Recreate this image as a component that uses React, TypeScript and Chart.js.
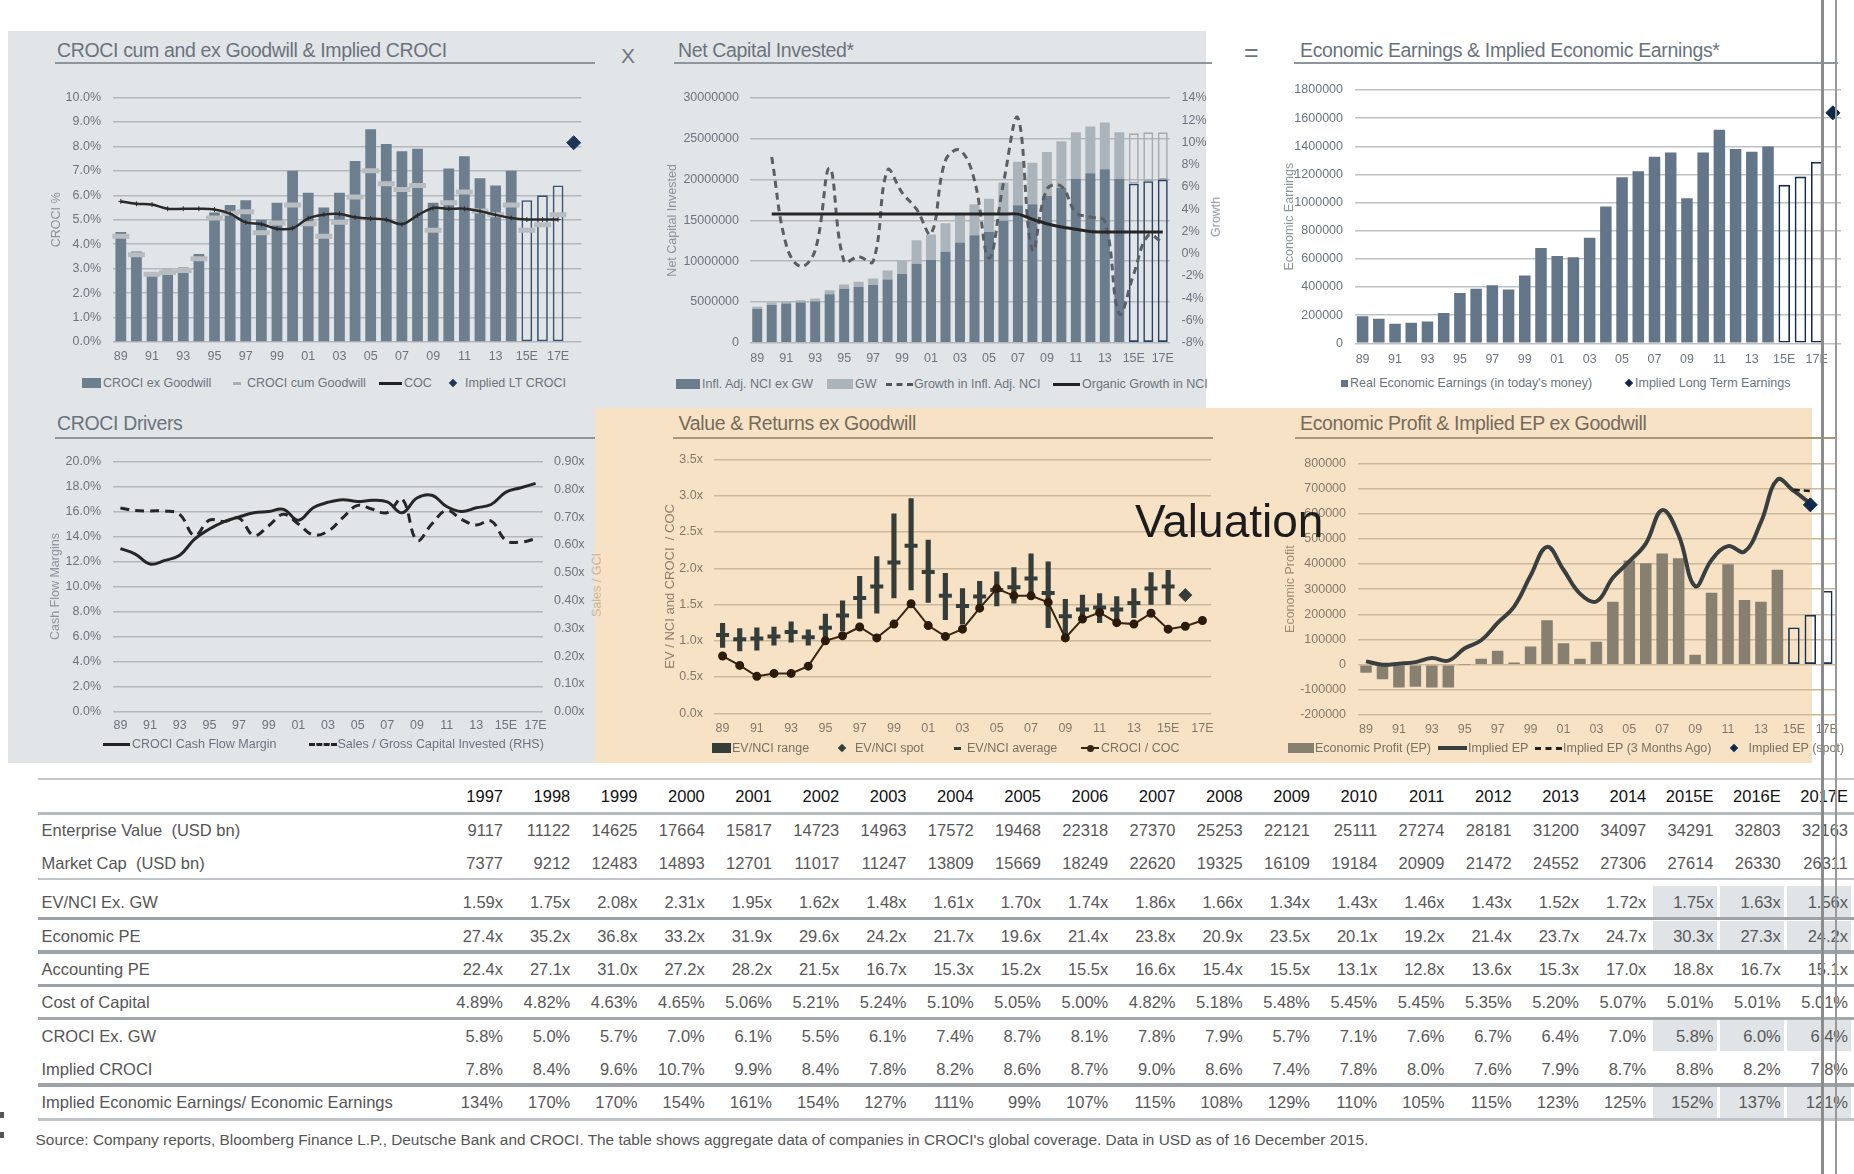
import React, { useEffect, useRef } from 'react';
import { Chart, registerables } from 'chart.js';

Chart.register(...registerables);

const FONT = '"Liberation Sans", Arial, Helvetica, sans-serif';

// ---------------- categories ----------------
const YEARS = ['89','90','91','92','93','94','95','96','97','98','99','00','01','02','03','04','05','06','07','08','09','10','11','12','13','14','15E','16E','17E'];
const YEARS_LT = ['89','90','91','92','93','94','95','96','97','98','99','00','01','02','03','04','05','06','07','08','09','10','11','12','13','14','15E','16E','17E','LT'];

// ---------------- chart 1: CROCI cum and ex Goodwill ----------------
const CROCI_EX_GW = [4.5, 3.7, 2.85, 2.95, 3.05, 3.6, 5.3, 5.6, 5.8, 5.0, 5.7, 7.0, 6.1, 5.5, 6.1, 7.4, 8.7, 8.1, 7.8, 7.9, 5.7, 7.1, 7.6, 6.7, 6.4, 7.0, 5.8, 6.0, 6.4];
const CROCI_CUM_GW = [4.33, 3.57, 2.77, 2.84, 2.92, 3.4, 5.07, 5.27, 5.33, 4.47, 4.87, 5.6, 4.84, 4.33, 4.9, 5.93, 7.0, 6.47, 6.24, 6.4, 4.57, 5.7, 6.13, 5.36, 5.2, 5.6, 4.57, 4.8, 5.2];
const COC_PCT = [5.75, 5.65, 5.62, 5.45, 5.45, 5.45, 5.42, 5.25, 4.89, 4.82, 4.63, 4.65, 5.06, 5.21, 5.24, 5.10, 5.05, 5.00, 4.82, 5.18, 5.48, 5.45, 5.45, 5.35, 5.20, 5.07, 5.01, 5.01, 5.01];
const IMPLIED_LT_CROCI = [{ x: 'LT', y: 8.15 }];

// ---------------- chart 2: Net Capital Invested ----------------
const NCI_EX_GW = [4130000, 4610000, 4810000, 4930000, 5050000, 5940000, 6620000, 6820000, 7060000, 7740000, 8420000, 9670000, 10150000, 11150000, 12270000, 13160000, 13560000, 14960000, 16850000, 16970000, 17970000, 18970000, 20100000, 20770000, 21260000, 20100000, 19500000, 19800000, 20000000];
const GW = [280000, 320000, 200000, 280000, 360000, 480000, 520000, 640000, 800000, 1120000, 1610000, 2880000, 3130000, 3490000, 3490000, 3810000, 4090000, 4690000, 5330000, 5090000, 5410000, 5740000, 5690000, 5740000, 5730000, 5690000, 6170000, 5990000, 5790000];
const GROWTH_NCI = [null, 8.7, 0.8, -1.15, 0.3, 7.7, -0.7, -0.26, -0.7, 7.5, 5.5, 4.0, 1.8, 8.4, 9.3, 6.6, -0.4, 6.35, 12.2, 0.3, 5.8, 6.06, 3.7, 3.3, 2.9, -5.4, -1.8, 1.65, 1.0];
const ORGANIC_GROWTH = [null, 3.56, 3.56, 3.56, 3.56, 3.56, 3.56, 3.56, 3.56, 3.56, 3.56, 3.56, 3.56, 3.56, 3.56, 3.56, 3.56, 3.56, 3.56, 3.1, 2.7, 2.4, 2.2, 2.0, 1.95, 1.95, 1.95, 1.95, 1.95];

// ---------------- chart 3: Economic Earnings ----------------
const ECON_EARNINGS = [192800, 174000, 139000, 146000, 155600, 216000, 357700, 388000, 413000, 383000, 481000, 678000, 620000, 611000, 750000, 973000, 1180000, 1222000, 1326000, 1356000, 1031000, 1356000, 1517000, 1380000, 1361000, 1398000, 1126000, 1185000, 1289000];
const IMPLIED_LT_EARNINGS = [{ x: 'LT', y: 1638000 }];

// ---------------- chart 4: CROCI Drivers ----------------
const CF_MARGIN = [13.04, 12.6, 11.8, 12.1, 12.5, 13.8, 14.6, 15.2, 15.57, 15.9, 16.0, 16.17, 15.3, 16.3, 16.74, 16.95, 16.8, 16.9, 16.77, 15.9, 17.08, 17.3, 16.4, 16.0, 16.3, 16.56, 17.55, 17.9, 18.25];
const SALES_GCI = [0.733, 0.724, 0.722, 0.722, 0.71, 0.634, 0.689, 0.684, 0.696, 0.634, 0.669, 0.71, 0.675, 0.636, 0.649, 0.698, 0.742, 0.728, 0.716, 0.765, 0.616, 0.675, 0.724, 0.692, 0.672, 0.686, 0.616, 0.61, 0.622];

// ---------------- chart 5: Value & Returns ex Goodwill ----------------
const EVNCI_LOW = [0.91, 0.86, 0.87, 0.94, 0.98, 0.94, 1.00, 1.14, 1.31, 1.38, 1.59, 1.70, 1.53, 1.29, 1.23, 1.42, 1.48, 1.52, 1.58, 1.18, 1.06, 1.25, 1.25, 1.23, 1.32, 1.50, 1.50];
const EVNCI_HIGH = [1.24, 1.17, 1.18, 1.19, 1.26, 1.15, 1.37, 1.55, 1.89, 2.16, 2.75, 2.96, 2.39, 1.93, 1.72, 1.82, 1.95, 2.01, 2.20, 2.09, 1.57, 1.63, 1.65, 1.61, 1.72, 1.94, 1.97];
const EVNCI_AVG = [1.08, 1.02, 1.03, 1.06, 1.12, 1.05, 1.18, 1.35, 1.59, 1.75, 2.08, 2.31, 1.95, 1.62, 1.48, 1.61, 1.70, 1.74, 1.86, 1.66, 1.34, 1.43, 1.46, 1.43, 1.52, 1.72, 1.75];
const EVNCI_SPOT = [{ x: '16E', y: 1.63 }];
const CROCI_OVER_COC = [0.79, 0.66, 0.51, 0.55, 0.55, 0.65, 1.00, 1.07, 1.19, 1.04, 1.23, 1.51, 1.21, 1.06, 1.16, 1.45, 1.72, 1.62, 1.62, 1.53, 1.04, 1.30, 1.39, 1.25, 1.23, 1.38, 1.16, 1.20, 1.28];

// ---------------- chart 6: Economic Profit ----------------
const ECON_PROFIT = [-32000, -58000, -91000, -88000, -91000, -91000, 1000, 23000, 55000, 9000, 72000, 176000, 85000, 23000, 91000, 250000, 414000, 403000, 442000, 423000, 39000, 286000, 399000, 257000, 250000, 377000, 148000, 198000, 293000];
const IMPLIED_EP = [13000, 0, 4000, 10000, 26000, 16000, 65000, 97000, 166000, 231000, 354000, 468000, 377000, 282000, 251000, 345000, 410000, 481000, 614000, 514000, 312000, 416000, 471000, 449000, 566000, 735000, 690000, 640000];
const IMPLIED_EP_3M = [{ x: '15E', y: 695000 }, { x: '16E', y: 690000 }];
const IMPLIED_EP_SPOT = [{ x: '16E', y: 635000 }];

// ---------------- table ----------------
const TABLE_YEARS = ['1997','1998','1999','2000','2001','2002','2003','2004','2005','2006','2007','2008','2009','2010','2011','2012','2013','2014','2015E','2016E','2017E'];
const EV_USD_BN = [9117, 11122, 14625, 17664, 15817, 14723, 14963, 17572, 19468, 22318, 27370, 25253, 22121, 25111, 27274, 28181, 31200, 34097, 34291, 32803, 32163];
const MCAP_USD_BN = [7377, 9212, 12483, 14893, 12701, 11017, 11247, 13809, 15669, 18249, 22620, 19325, 16109, 19184, 20909, 21472, 24552, 27306, 27614, 26330, 26311];
const EVNCI_EX_GW = [1.59, 1.75, 2.08, 2.31, 1.95, 1.62, 1.48, 1.61, 1.70, 1.74, 1.86, 1.66, 1.34, 1.43, 1.46, 1.43, 1.52, 1.72, 1.75, 1.63, 1.56];
const ECONOMIC_PE = [27.4, 35.2, 36.8, 33.2, 31.9, 29.6, 24.2, 21.7, 19.6, 21.4, 23.8, 20.9, 23.5, 20.1, 19.2, 21.4, 23.7, 24.7, 30.3, 27.3, 24.2];
const ACCOUNTING_PE = [22.4, 27.1, 31.0, 27.2, 28.2, 21.5, 16.7, 15.3, 15.2, 15.5, 16.6, 15.4, 15.5, 13.1, 12.8, 13.6, 15.3, 17.0, 18.8, 16.7, 15.1];
const COST_OF_CAPITAL = [4.89, 4.82, 4.63, 4.65, 5.06, 5.21, 5.24, 5.10, 5.05, 5.00, 4.82, 5.18, 5.48, 5.45, 5.45, 5.35, 5.20, 5.07, 5.01, 5.01, 5.01];
const CROCI_TABLE = [5.8, 5.0, 5.7, 7.0, 6.1, 5.5, 6.1, 7.4, 8.7, 8.1, 7.8, 7.9, 5.7, 7.1, 7.6, 6.7, 6.4, 7.0, 5.8, 6.0, 6.4];
const IMPLIED_CROCI = [7.8, 8.4, 9.6, 10.7, 9.9, 8.4, 7.8, 8.2, 8.6, 8.7, 9.0, 8.6, 7.4, 7.8, 8.0, 7.6, 7.9, 8.7, 8.8, 8.2, 7.8];
const IMPLIED_EE_RATIO = [134, 170, 170, 154, 161, 154, 127, 111, 99, 107, 115, 108, 129, 110, 105, 115, 123, 125, 152, 137, 121];

// ---------------- styles ----------------
const GRAY_BG = '#e2e5e8';
const PEACH = '#f7e2c5';
const TICK_GRAY = '#6c747d';
const TICK_PEACH = '#85786a';
const GRID_GRAY = '#b3b8bd';
const GRID_WHITE = '#bdc1c5';
const GRID_PEACH = '#cbb99b';
const NAVY = '#1d3657';
const SLATE = '#6d7e8f';
const EST_FROM = 26;

function frame(cl: number, ct: number, cr: number, cb: number, titleCX: number, rightEdge: number, titleSize = 12.5) {
  const half = titleSize * 0.6;
  const L = Math.floor(titleCX - half - 1);
  const T = Math.floor(ct - 14);
  const R = Math.ceil(rightEdge);
  const B = Math.ceil(cb + 30);
  return { L, T, R, B, W: R - L, H: B - T, cl, ct, cr, cb, leftW: cl - L, padTop: ct - T, rightW: R - cr, xH: B - cb, titlePad: titleCX - L - half };
}

function baseOptions(f: any, hasRight: boolean) {
  return {
    responsive: false,
    animation: false,
    devicePixelRatio: 1,
    events: [],
    layout: { padding: { left: 0, top: f.padTop, right: hasRight ? 0 : f.rightW, bottom: 0 } },
    plugins: { legend: { display: false }, tooltip: { enabled: false }, title: { display: false } },
  };
}

function xAxis(f: any, color: string, labelCY: number, stacked = false) {
  return {
    type: 'category',
    offset: true,
    stacked,
    grid: { display: false, drawTicks: false },
    border: { display: false },
    ticks: {
      autoSkip: false, maxRotation: 0, minRotation: 0, color,
      padding: labelCY - f.cb - 7.5,
      font: { family: FONT, size: 12.5 },
      callback: function (this: any, v: any, i: number) { return i % 2 === 0 ? this.getLabelForValue(v) : ''; },
    },
    afterFit: (s: any) => { s.height = f.xH; },
  };
}

function yAxis(f: any, o: any) {
  return {
    type: 'linear', position: 'left', min: o.min, max: o.max, stacked: !!o.stacked,
    grid: { color: o.grid, lineWidth: 1.5, drawTicks: false },
    border: { display: false },
    ticks: { stepSize: o.step, maxTicksLimit: 30, color: o.color, padding: f.cl - o.labelRight, font: { family: FONT, size: 12.5 }, callback: o.cb },
    title: { display: !!o.title, text: o.title, color: o.titleColor, font: { family: FONT, size: o.titleSize || 12.5 }, padding: { top: f.titlePad, bottom: 0 } },
    afterFit: (s: any) => { s.width = f.leftW; },
  };
}

function y1Axis(f: any, o: any) {
  return {
    type: 'linear', position: 'right', min: o.min, max: o.max,
    grid: { display: false, drawTicks: false },
    border: { display: false },
    ticks: { stepSize: o.step, maxTicksLimit: 30, color: o.color, padding: o.labelLeft - f.cr, font: { family: FONT, size: 12.5 }, callback: o.cb },
    afterFit: (s: any) => { s.width = f.rightW; },
  };
}

const estFill = (fill: string) => (c: any) => (c.dataIndex >= EST_FROM ? 'rgba(0,0,0,0)' : fill);
const estBorder = (color: string) => (c: any) => (c.dataIndex >= EST_FROM ? color : 'rgba(0,0,0,0)');
const estWidth = (c: any) => (c.dataIndex >= EST_FROM ? 1.6 : 0);

// ---------------- frames ----------------
const F1 = frame(113, 92, 589, 342, 57, 595);
const F2 = frame(750, 93.3, 1170, 342.7, 673, 1212);
const F3 = frame(1354.5, 85, 1841, 343.3, 1290, 1850);
const F4 = frame(113, 456, 543, 711.7, 55.5, 592);
const F5 = frame(714, 455, 1211, 713.3, 670.5, 1225, 13);
const F6 = frame(1357.8, 458.3, 1835, 715, 1290.5, 1850);

const pct1 = (v: number) => v.toFixed(1) + '%';
const plain = (v: number) => String(v);

function build1() {
  return {
    type: 'bar',
    data: {
      labels: YEARS_LT,
      datasets: [
        { type: 'line', label: 'Implied LT CROCI', data: IMPLIED_LT_CROCI, showLine: false, pointStyle: 'rectRot', pointRadius: 7, pointBackgroundColor: NAVY, pointBorderColor: NAVY, order: 0 },
        { type: 'line', label: 'COC', data: COC_PCT, borderColor: '#2a2a2a', borderWidth: 2.5, tension: 0.35, pointStyle: 'cross', pointRadius: 2.5, pointBorderColor: '#2a2a2a', pointBorderWidth: 1, order: 1 },
        { type: 'line', label: 'CROCI cum Goodwill', data: CROCI_CUM_GW, showLine: false, pointStyle: 'line', pointRadius: 8.5, pointBorderWidth: 5, pointBorderColor: '#b8bdc2', order: 2 },
        { type: 'bar', label: 'CROCI ex Goodwill', data: CROCI_EX_GW, backgroundColor: estFill(SLATE), borderColor: estBorder('#3b5270'), borderWidth: estWidth, borderSkipped: false, barPercentage: 0.69, categoryPercentage: 1, order: 3 },
      ],
    },
    options: {
      ...baseOptions(F1, false),
      scales: {
        x: xAxis(F1, TICK_GRAY, 357),
        y: yAxis(F1, { min: 0, max: 10, step: 1, cb: pct1, color: TICK_GRAY, grid: GRID_GRAY, labelRight: 101, title: 'CROCI %', titleColor: '#8b939b' }),
      },
    },
  };
}

function build2() {
  return {
    type: 'bar',
    data: {
      labels: YEARS,
      datasets: [
        { type: 'line', label: 'Organic Growth in NCI', data: ORGANIC_GROWTH, yAxisID: 'y1', borderColor: '#252525', borderWidth: 3, tension: 0.3, pointRadius: 0, order: 0 },
        { type: 'line', label: 'Growth in Infl. Adj. NCI', data: GROWTH_NCI, yAxisID: 'y1', borderColor: '#5a5f64', borderWidth: 3, borderDash: [7, 5], tension: 0.4, pointRadius: 0, order: 1 },
        { type: 'bar', label: 'Infl. Adj. NCI ex GW', data: NCI_EX_GW, stack: 'nci', backgroundColor: estFill('#6b7c8d'), borderColor: estBorder('#2c4262'), borderWidth: estWidth, borderSkipped: false, barPercentage: 0.69, categoryPercentage: 1, order: 2 },
        { type: 'bar', label: 'GW', data: GW, stack: 'nci', backgroundColor: estFill('#abb3bb'), borderColor: estBorder('#a3abb3'), borderWidth: estWidth, borderSkipped: false, barPercentage: 0.69, categoryPercentage: 1, order: 3 },
      ],
    },
    options: {
      ...baseOptions(F2, true),
      scales: {
        x: xAxis(F2, TICK_GRAY, 359, true),
        y: yAxis(F2, { min: 0, max: 30000000, step: 5000000, cb: plain, color: TICK_GRAY, grid: GRID_GRAY, labelRight: 739, title: 'Net Capital Invested', titleColor: '#8b939b', stacked: true }),
        y1: y1Axis(F2, { min: -8, max: 14, step: 2, cb: (v: number) => v + '%', color: TICK_GRAY, labelLeft: 1181.5 }),
      },
    },
  };
}

function build3() {
  return {
    type: 'bar',
    data: {
      labels: YEARS_LT,
      datasets: [
        { type: 'line', label: 'Implied Long Term Earnings', data: IMPLIED_LT_EARNINGS, showLine: false, pointStyle: 'rectRot', pointRadius: 7, pointBackgroundColor: '#0f2849', pointBorderColor: '#0f2849', order: 0 },
        { type: 'bar', label: "Real Economic Earnings (in today's money)", data: ECON_EARNINGS, backgroundColor: estFill('#637589'), borderColor: estBorder('#14294a'), borderWidth: estWidth, borderSkipped: false, barPercentage: 0.71, categoryPercentage: 1, order: 1 },
      ],
    },
    options: {
      ...baseOptions(F3, false),
      scales: {
        x: xAxis(F3, TICK_GRAY, 359.3),
        y: yAxis(F3, { min: 0, max: 1800000, step: 200000, cb: plain, color: TICK_GRAY, grid: GRID_WHITE, labelRight: 1343, title: 'Economic Earnings', titleColor: '#8b939b' }),
      },
    },
  };
}

function build4() {
  return {
    type: 'line',
    data: {
      labels: YEARS,
      datasets: [
        { label: 'CROCI Cash Flow Margin', data: CF_MARGIN, yAxisID: 'y', borderColor: '#262626', borderWidth: 3, tension: 0.4, pointRadius: 0 },
        { label: 'Sales / Gross Capital Invested (RHS)', data: SALES_GCI, yAxisID: 'y1', borderColor: '#262626', borderWidth: 3, borderDash: [9, 6], tension: 0.4, pointRadius: 0 },
      ],
    },
    options: {
      ...baseOptions(F4, true),
      scales: {
        x: { ...xAxis(F4, TICK_GRAY, 726), offset: true },
        y: yAxis(F4, { min: 0, max: 20, step: 2, cb: pct1, color: TICK_GRAY, grid: GRID_GRAY, labelRight: 101, title: 'Cash Flow Margins', titleColor: '#8b939b' }),
        y1: y1Axis(F4, { min: 0, max: 0.9, step: 0.1, cb: (v: number) => v.toFixed(2) + 'x', color: TICK_GRAY, labelLeft: 554 }),
      },
    },
  };
}

function build5() {
  const ranges = EVNCI_LOW.map((lo, i) => [lo, EVNCI_HIGH[i]]);
  return {
    type: 'bar',
    data: {
      labels: YEARS,
      datasets: [
        { type: 'line', label: 'CROCI / COC', data: CROCI_OVER_COC, borderColor: '#3a2512', borderWidth: 2, tension: 0, pointRadius: 3.5, pointBackgroundColor: '#2c1b0a', pointBorderColor: '#2c1b0a', order: 0 },
        { type: 'line', label: 'EV/NCI spot', data: EVNCI_SPOT, showLine: false, pointStyle: 'rectRot', pointRadius: 6.5, pointBackgroundColor: '#353d3b', pointBorderColor: '#353d3b', order: 1 },
        { type: 'line', label: 'EV/NCI average', data: EVNCI_AVG, showLine: false, pointStyle: 'line', pointRadius: 6.5, pointBorderWidth: 4, pointBorderColor: '#353d3b', order: 2 },
        { type: 'bar', label: 'EV/NCI range', data: ranges, backgroundColor: '#353d3b', barThickness: 4.5, borderWidth: 0, order: 3 },
      ],
    },
    options: {
      ...baseOptions(F5, false),
      scales: {
        x: xAxis(F5, TICK_PEACH, 729),
        y: yAxis(F5, { min: 0, max: 3.5, step: 0.5, cb: (v: number) => v.toFixed(1) + 'x', color: TICK_PEACH, grid: GRID_PEACH, labelRight: 703, title: 'EV / NCI and CROCI  / COC', titleColor: '#8e7d66', titleSize: 13 }),
      },
    },
  };
}

function build6() {
  return {
    type: 'bar',
    data: {
      labels: YEARS,
      datasets: [
        { type: 'line', label: 'Implied EP (spot)', data: IMPLIED_EP_SPOT, showLine: false, pointStyle: 'rectRot', pointRadius: 7, pointBackgroundColor: '#102a4c', pointBorderColor: '#102a4c', order: 0 },
        { type: 'line', label: 'Implied EP (3 Months Ago)', data: IMPLIED_EP_3M, borderColor: '#1c1c1c', borderWidth: 2.5, borderDash: [6, 4], pointRadius: 0, order: 1 },
        { type: 'line', label: 'Implied EP', data: IMPLIED_EP, borderColor: '#393e3e', borderWidth: 4, tension: 0.4, pointRadius: 0, order: 2 },
        { type: 'bar', label: 'Economic Profit (EP)', data: ECON_PROFIT, backgroundColor: estFill('#878070'), borderColor: estBorder('#1b2f4f'), borderWidth: estWidth, borderSkipped: false, barPercentage: 0.7, categoryPercentage: 1, order: 3 },
      ],
    },
    options: {
      ...baseOptions(F6, false),
      scales: {
        x: xAxis(F6, TICK_PEACH, 730),
        y: yAxis(F6, { min: -200000, max: 800000, step: 100000, cb: plain, color: TICK_PEACH, grid: GRID_PEACH, labelRight: 1346, title: 'Economic Profit', titleColor: '#a08c70' }),
      },
    },
  };
}

function ChartBox({ f, build }: { f: any; build: () => any }) {
  const ref = useRef<HTMLCanvasElement | null>(null);
  useEffect(() => {
    if (!ref.current) return;
    const chart = new Chart(ref.current, build() as any);
    return () => chart.destroy();
  }, []);
  return <canvas ref={ref} width={f.W} height={f.H} style={{ position: 'absolute', left: f.L, top: f.T, width: f.W, height: f.H, zIndex: 1 }} />;
}

// ---------------- html helpers ----------------
const abs: any = { position: 'absolute', fontFamily: FONT, lineHeight: 1, whiteSpace: 'pre' };

function Txt({ x, y, size, color, children, style }: any) {
  return <div style={{ ...abs, left: x, top: y - 0.49 * size, fontSize: size, color, zIndex: 2, ...style }}>{children}</div>;
}
function RTxt({ x, y, size, color, children }: any) {
  return <div style={{ ...abs, left: x - 200, width: 200, textAlign: 'right', top: y - 0.49 * size, fontSize: size, color, zIndex: 2 }}>{children}</div>;
}
function Title({ x, baseline, children, color }: any) {
  const size = 19.5;
  return <div style={{ ...abs, left: x, top: baseline - 0.8465 * size, fontSize: size, letterSpacing: -0.35, color, zIndex: 2 }}>{children}</div>;
}
function HLine({ x1, x2, y, h, color }: any) {
  return <div style={{ position: 'absolute', left: x1, width: x2 - x1, top: y - h / 2, height: h, background: color, zIndex: 2 }} />;
}
function VText({ cx, cy, size, color, children }: any) {
  return <div style={{ ...abs, left: cx, top: cy, fontSize: size, color, transform: 'translate(-50%,-50%) rotate(-90deg)', zIndex: 2 }}>{children}</div>;
}

function Sym({ s, y }: any) {
  const base: any = { position: 'absolute', zIndex: 2 };
  if (s.kind === 'rect' || s.kind === 'line') {
    const h = s.h || 10;
    return <div style={{ ...base, left: s.x, top: y - h / 2, width: s.w, height: h, background: s.color }} />;
  }
  if (s.kind === 'dash') {
    return <div style={{ ...base, left: s.x, top: y - 1.5, width: s.w, height: 0, borderTop: `3px dashed ${s.color}` }} />;
  }
  if (s.kind === 'diamond') {
    return <div style={{ ...base, left: s.x, top: y - s.w / 2, width: s.w, height: s.w, background: s.color, transform: 'rotate(45deg)' }} />;
  }
  return (
    <>
      <div style={{ ...base, left: s.x, top: y - 1, width: s.w, height: 2, background: s.color }} />
      <div style={{ ...base, left: s.x + s.w / 2 - 3.5, top: y - 3.5, width: 7, height: 7, borderRadius: 4, background: s.color }} />
    </>
  );
}

function Legend({ y, items, color }: any) {
  return (
    <>
      {items.map((it: any, k: number) => (
        <React.Fragment key={k}>
          <Sym s={it.sym} y={y} />
          <Txt x={it.tx} y={y} size={12.5} color={color}>{it.text}</Txt>
        </React.Fragment>
      ))}
    </>
  );
}

const LEG_GRAY = '#6b737c';
const LEG_PEACH = '#7c7061';
const TITLE_GRAY = '#6a737d';
const TITLE_PEACH = '#766a5b';

const LEGEND1 = [
  { sym: { kind: 'rect', x: 82, w: 19, color: SLATE }, tx: 103, text: 'CROCI ex Goodwill' },
  { sym: { kind: 'line', x: 233, w: 8, h: 2.5, color: '#a9afb5' }, tx: 247, text: 'CROCI cum Goodwill' },
  { sym: { kind: 'line', x: 379, w: 23, h: 3, color: '#222' }, tx: 404, text: 'COC' },
  { sym: { kind: 'diamond', x: 450, w: 6, color: NAVY }, tx: 465, text: 'Implied LT CROCI' },
];
const LEGEND2 = [
  { sym: { kind: 'rect', x: 676, w: 24, color: '#6b7c8d' }, tx: 702, text: 'Infl. Adj. NCI ex GW' },
  { sym: { kind: 'rect', x: 827, w: 26, color: '#abb3bb' }, tx: 855, text: 'GW' },
  { sym: { kind: 'dash', x: 886, w: 27, color: '#50555a' }, tx: 914, text: 'Growth in Infl. Adj. NCI' },
  { sym: { kind: 'line', x: 1053, w: 27, h: 3, color: '#222' }, tx: 1082, text: 'Organic Growth in NCI' },
];
const LEGEND3 = [
  { sym: { kind: 'rect', x: 1341, w: 7, h: 7, color: '#637589' }, tx: 1350, text: "Real Economic Earnings (in today's money)" },
  { sym: { kind: 'diamond', x: 1626, w: 6, color: '#0f2849' }, tx: 1635, text: 'Implied Long Term Earnings' },
];
const LEGEND4 = [
  { sym: { kind: 'line', x: 102.6, w: 27, h: 3, color: '#222' }, tx: 132, text: 'CROCI Cash Flow Margin' },
  { sym: { kind: 'dash', x: 309, w: 28, color: '#222' }, tx: 337.5, text: 'Sales / Gross Capital Invested (RHS)' },
];
const LEGEND5 = [
  { sym: { kind: 'rect', x: 711.6, w: 19.5, color: '#353d3b' }, tx: 732, text: 'EV/NCI range' },
  { sym: { kind: 'diamond', x: 839, w: 6, color: '#353d3b' }, tx: 855, text: 'EV/NCI spot' },
  { sym: { kind: 'line', x: 954, w: 7, h: 3, color: '#353d3b' }, tx: 967, text: 'EV/NCI average' },
  { sym: { kind: 'dotline', x: 1081, w: 18, color: '#3a2512' }, tx: 1101, text: 'CROCI / COC' },
];
const LEGEND6 = [
  { sym: { kind: 'rect', x: 1288, w: 26, color: '#878070' }, tx: 1315, text: 'Economic Profit (EP)' },
  { sym: { kind: 'line', x: 1438, w: 29, h: 4, color: '#393e3e' }, tx: 1468, text: 'Implied EP' },
  { sym: { kind: 'dash', x: 1535, w: 27, color: '#222' }, tx: 1563, text: 'Implied EP (3 Months Ago)' },
  { sym: { kind: 'diamond', x: 1731, w: 6, color: '#102a4c' }, tx: 1748.5, text: 'Implied EP (spot)' },
];

// ---------------- table ----------------
const colRight = (k: number) => 503 + k * 67.25;
const TABLE_ROWS = [
  { label: 'Enterprise Value  (USD bn)', cells: EV_USD_BN.map(String), y: 830 },
  { label: 'Market Cap  (USD bn)', cells: MCAP_USD_BN.map(String), y: 863.3 },
  { label: 'EV/NCI Ex. GW', cells: EVNCI_EX_GW.map((v) => v.toFixed(2) + 'x'), y: 901.7 },
  { label: 'Economic PE', cells: ECONOMIC_PE.map((v) => v.toFixed(1) + 'x'), y: 935.7 },
  { label: 'Accounting PE', cells: ACCOUNTING_PE.map((v) => v.toFixed(1) + 'x'), y: 969 },
  { label: 'Cost of Capital', cells: COST_OF_CAPITAL.map((v) => v.toFixed(2) + '%'), y: 1002.3 },
  { label: 'CROCI Ex. GW', cells: CROCI_TABLE.map((v) => v.toFixed(1) + '%'), y: 1035.7 },
  { label: 'Implied CROCI', cells: IMPLIED_CROCI.map((v) => v.toFixed(1) + '%'), y: 1069 },
  { label: 'Implied Economic Earnings/ Economic Earnings', cells: IMPLIED_EE_RATIO.map((v) => v + '%'), y: 1102.3 },
];
const SHADE_BANDS = [[886, 917], [920.5, 950.5], [1020, 1051], [1086.5, 1118]];
const TABLE_LINES = [
  { y: 779, h: 2.5, c: '#c4c8cc' },
  { y: 813, h: 3, c: '#b6bbc0' },
  { y: 879, h: 2.5, c: '#c0c4c8' },
  { y: 918.5, h: 3.5, c: '#9ca2a8' },
  { y: 952, h: 3.5, c: '#9ca2a8' },
  { y: 985.5, h: 3.5, c: '#9ca2a8' },
  { y: 1018.5, h: 3, c: '#a2a8ae' },
  { y: 1085, h: 3.5, c: '#9ca2a8' },
  { y: 1119, h: 3, c: '#bfc3c7' },
];

function Table() {
  return (
    <>
      {SHADE_BANDS.map(([a, b], i) =>
        [18, 19, 20].map((k) => (
          <div key={`s${i}-${k}`} style={{ position: 'absolute', left: colRight(k) - 61, width: 64, top: a, height: b - a, background: '#e1e4e7', zIndex: 1 }} />
        ))
      )}
      {TABLE_LINES.map((l, i) => <HLine key={`l${i}`} x1={38} x2={1854} y={l.y} h={l.h} color={l.c} />)}
      {TABLE_YEARS.map((yr, k) => <RTxt key={`h${k}`} x={colRight(k)} y={796} size={16.5} color="#111">{yr}</RTxt>)}
      {TABLE_ROWS.map((r, i) => (
        <React.Fragment key={`r${i}`}>
          <Txt x={41.5} y={r.y} size={16.5} color="#555">{r.label}</Txt>
          {r.cells.map((c, k) => <RTxt key={k} x={colRight(k)} y={r.y} size={16.5} color="#585858">{c}</RTxt>)}
        </React.Fragment>
      ))}
      <Txt x={35.6} y={1139.3} size={15.4} color="#555">Source: Company reports, Bloomberg Finance L.P., Deutsche Bank and CROCI. The table shows aggregate data of companies in CROCI's global coverage. Data in USD as of 16 December 2015.</Txt>
    </>
  );
}

export default function App() {
  return (
    <div style={{ position: 'absolute', left: 0, top: 0, width: 1854, height: 1174, background: '#fff', overflow: 'hidden', fontFamily: FONT }}>
      <div style={{ position: 'absolute', left: 8, top: 31, width: 1198, height: 377, background: GRAY_BG }} />
      <div style={{ position: 'absolute', left: 8, top: 408, width: 587, height: 355, background: GRAY_BG }} />
      <div style={{ position: 'absolute', left: 595, top: 408, width: 1217, height: 355, background: PEACH }} />

      <ChartBox f={F1} build={build1} />
      <ChartBox f={F2} build={build2} />
      <ChartBox f={F3} build={build3} />
      <ChartBox f={F4} build={build4} />
      <ChartBox f={F5} build={build5} />
      <ChartBox f={F6} build={build6} />

      <Title x={57} baseline={58} color={TITLE_GRAY}>CROCI cum and ex Goodwill &amp; Implied CROCI</Title>
      <Title x={678} baseline={58} color={TITLE_GRAY}>Net Capital Invested*</Title>
      <Title x={1300} baseline={58} color={TITLE_GRAY}>Economic Earnings &amp; Implied Economic Earnings*</Title>
      <Title x={57} baseline={430.5} color={TITLE_GRAY}>CROCI Drivers</Title>
      <Title x={678.6} baseline={430.5} color={TITLE_PEACH}>Value &amp; Returns ex Goodwill</Title>
      <Title x={1300} baseline={430.5} color={TITLE_PEACH}>Economic Profit &amp; Implied EP ex Goodwill</Title>

      <HLine x1={55} x2={595} y={62.7} h={2} color="#8e959c" />
      <HLine x1={674} x2={1212} y={62.7} h={2} color="#8e959c" />
      <HLine x1={1294} x2={1838} y={62.7} h={2} color="#8e959c" />
      <HLine x1={55} x2={595} y={438.3} h={2} color="#8e959c" />
      <HLine x1={673} x2={1213} y={438.3} h={2} color="#a6977f" />
      <HLine x1={1295} x2={1836} y={438.3} h={2} color="#a6977f" />

      <div style={{ ...abs, left: 621, top: 45, fontSize: 21, color: '#6f7780', zIndex: 2 }}>X</div>
      <div style={{ ...abs, left: 1244, top: 40, fontSize: 25, color: '#6f7780', zIndex: 2 }}>=</div>

      <VText cx={1216} cy={217} size={12.5} color="#8b939b">Growth</VText>
      <VText cx={597} cy={585} size={12.5} color="#c8b38f">Sales / GCI</VText>

      <Legend y={383.3} items={LEGEND1} color={LEG_GRAY} />
      <Legend y={384} items={LEGEND2} color={LEG_GRAY} />
      <Legend y={383} items={LEGEND3} color={LEG_GRAY} />
      <Legend y={744} items={LEGEND4} color={LEG_GRAY} />
      <Legend y={748} items={LEGEND5} color={LEG_PEACH} />
      <Legend y={748} items={LEGEND6} color={LEG_PEACH} />

      <div style={{ ...abs, left: 1135, top: 498, fontSize: 46, color: '#1c1c1c', zIndex: 3 }}>Valuation</div>

      <Table />

      <div style={{ position: 'absolute', left: 0, top: 1112, width: 4, height: 6, background: '#555', zIndex: 3 }} />
      <div style={{ position: 'absolute', left: 0, top: 1132, width: 4, height: 6, background: '#555', zIndex: 3 }} />

      <div style={{ position: 'absolute', left: 1821, top: 0, width: 2.5, height: 1174, background: '#8c8c8c', zIndex: 4 }} />
      <div style={{ position: 'absolute', left: 1835, top: 0, width: 2, height: 1174, background: '#999', zIndex: 4 }} />
    </div>
  );
}
